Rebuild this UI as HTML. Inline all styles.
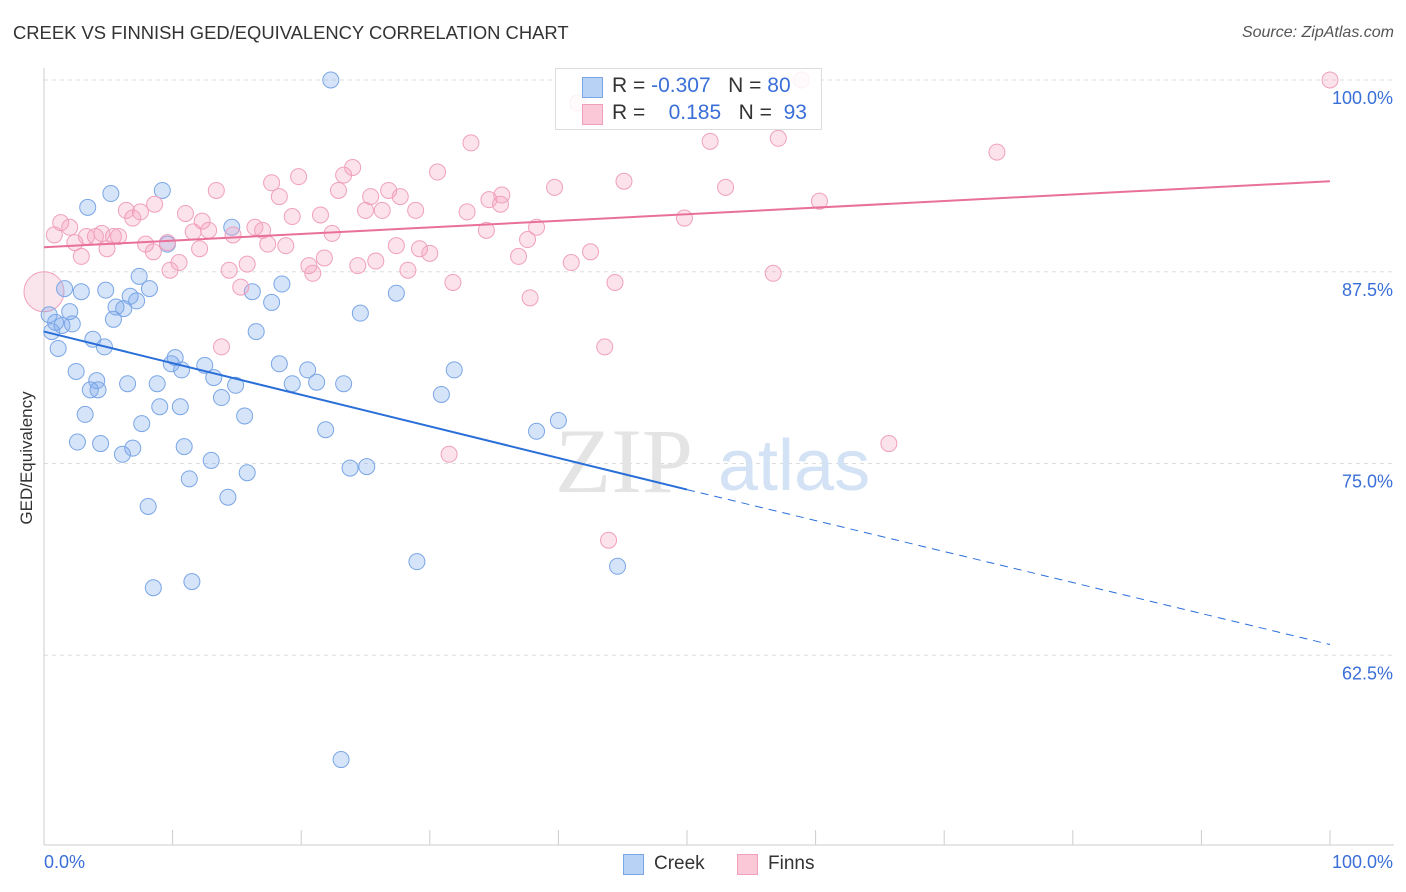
<!DOCTYPE html>
<html><head><meta charset="utf-8"><style>
body{margin:0;background:#fff;font-family:"Liberation Sans",sans-serif;}
#wrap{position:relative;width:1406px;height:892px;overflow:hidden;}
.t{position:absolute;white-space:nowrap;}
</style></head><body>
<div id="wrap">
<div class="t" style="left:13px;top:22px;font-size:18.4px;color:#333;">CREEK VS FINNISH GED/EQUIVALENCY CORRELATION CHART</div>
<div class="t" style="right:12px;top:24px;font-size:16px;color:#555;font-style:italic;">Source: ZipAtlas.com</div>
<svg id="svg" width="1406" height="892" style="position:absolute;left:0;top:0"></svg>
<div class="t" style="left:555px;top:68px;width:265px;height:60px;border:1px solid #ddd;background:rgba(255,255,255,0.85);">
 <div style="position:absolute;left:26px;top:8px;width:19px;height:19px;background:#b8d2f5;border:1px solid #7aa6e6;"></div>
 <div style="position:absolute;left:26px;top:35px;width:19px;height:19px;background:#fbc8d8;border:1px solid #f0a0bc;"></div>
 <div class="t" style="left:56px;top:5px;font-size:21px;color:#333;">R = <span style="color:#3a6fd8">-0.307</span>&nbsp;&nbsp;&nbsp;N = <span style="color:#3a6fd8">80</span></div>
 <div class="t" style="left:56px;top:32px;font-size:21px;color:#333;">R = &nbsp;&nbsp;&nbsp;<span style="color:#3a6fd8">0.185</span>&nbsp;&nbsp;&nbsp;N = &nbsp;<span style="color:#3a6fd8">93</span></div>
</div>
<div class="t" style="left:44px;top:852px;font-size:18px;color:#3a6fd8;">0.0%</div>
<div class="t" style="right:13px;top:852px;font-size:18px;color:#3a6fd8;">100.0%</div>
<div style="position:absolute;left:623px;top:854px;width:19px;height:19px;background:#b8d2f5;border:1px solid #7aa6e6;"></div>
<div class="t" style="left:654px;top:853px;font-size:19px;color:#333;">Creek</div>
<div style="position:absolute;left:737px;top:854px;width:19px;height:19px;background:#fbc8d8;border:1px solid #f0a0bc;"></div>
<div class="t" style="left:768px;top:853px;font-size:19px;color:#333;">Finns</div>
<div class="t" style="left:27px;top:458px;font-size:17px;color:#333;transform:translate(-50%,-50%) rotate(-90deg);transform-origin:center;">GED/Equivalency</div>
</div>
<script>
const yTicks=[100,87.5,75,62.5];
const yTickLabels=["100.0%","87.5%","75.0%","62.5%"];
const creekX=[22.3,5.2,9.2,3.4,14.6,9.6,7.4,8.2,2.9,4.8,1.6,16.2,18.5,27.4,6.7,7.2,5.6,6.2,17.7,0.4,24.6,2.0,5.4,0.9,2.2,1.4,0.6,16.5,3.8,4.7,1.1,10.2,9.9,10.7,12.5,18.3,20.5,31.9,2.5,13.2,4.1,6.5,8.8,14.9,19.3,21.2,23.3,3.6,4.2,13.8,30.9,9.0,10.6,3.2,15.6,7.6,21.9,38.3,40.0,2.6,4.4,6.9,10.9,6.1,13.0,25.1,23.8,15.8,11.3,14.3,8.1,29.0,44.6,11.5,8.5,23.1];
const creekY=[100,92.6,92.8,91.7,90.4,89.3,87.2,86.4,86.2,86.3,86.4,86.2,86.7,86.1,85.9,85.6,85.2,85.1,85.5,84.7,84.8,84.9,84.4,84.2,84.1,84.0,83.6,83.6,83.1,82.6,82.5,81.9,81.5,81.1,81.4,81.5,81.1,81.1,81.0,80.6,80.4,80.2,80.2,80.1,80.2,80.3,80.2,79.8,79.8,79.3,79.5,78.7,78.7,78.2,78.1,77.6,77.2,77.1,77.8,76.4,76.3,76.0,76.1,75.6,75.2,74.8,74.7,74.4,74.0,72.8,72.2,68.6,68.3,67.3,66.9,55.7];
const finnsX=[100,58.9,41.5,33.2,51.8,57.1,74.1,30.6,24.0,45.1,19.8,17.7,23.3,13.4,26.8,39.7,53.0,22.9,18.3,25.4,27.7,35.6,34.6,35.5,60.3,6.4,8.6,7.5,1.3,11.0,28.9,32.9,25.0,26.3,21.5,19.3,12.3,6.9,49.8,2.0,12.8,0.8,4.5,5.8,14.7,11.6,17.0,16.4,22.4,34.4,38.3,4.0,3.3,5.4,2.4,7.9,9.6,17.4,18.8,37.6,27.4,29.2,30.0,4.9,12.1,8.5,2.9,10.5,42.5,21.8,25.8,36.9,15.8,14.4,24.4,28.3,9.8,20.9,20.6,41.0,56.7,31.8,44.4,15.3,37.8,13.8,43.6,65.7,31.5,43.9];
const finnsY=[100,100,98.5,95.9,96.0,96.2,95.3,94.0,94.3,93.4,93.7,93.3,93.8,92.8,92.8,93.0,93.0,92.8,92.4,92.4,92.4,92.5,92.2,91.9,92.1,91.5,91.9,91.4,90.7,91.3,91.5,91.4,91.5,91.5,91.2,91.1,90.8,91.0,91.0,90.4,90.2,89.9,90.0,89.8,89.9,90.1,90.2,90.4,90.0,90.2,90.4,89.8,89.8,89.8,89.4,89.3,89.4,89.3,89.2,89.6,89.2,89.0,88.7,89.0,89.0,88.8,88.5,88.1,88.8,88.4,88.2,88.5,88.0,87.6,87.9,87.6,87.6,87.4,87.9,88.1,87.4,86.8,86.8,86.5,85.8,82.6,82.6,76.3,75.6,70.0];
const creekTrend=[83.6,73.3,63.2];
const finnsTrend=[89.1,93.4];
const NS="http://www.w3.org/2000/svg";
const svg=document.getElementById('svg');
const X=v=>44+v*12.86, Y=v=>80+(100-v)*15.34;
function mk(t,a){const e=document.createElementNS(NS,t);for(const k in a)e.setAttribute(k,a[k]);svg.appendChild(e);return e;}
yTicks.forEach((t,i)=>{
 const g=mk('line',{x1:44,x2:1394,y1:Y(t),y2:Y(t),stroke:'#ddd','stroke-dasharray':'4,4'});
 
 
 const tx=mk('text',{x:1393,y:Y(t)+24,'text-anchor':'end','font-size':18,fill:'#3a6fd8','font-family':'Liberation Sans'});
 tx.textContent=yTickLabels[i];
 
 
});
const ax=mk('line',{x1:44,x2:44,y1:68,y2:845,stroke:'#ccc'});


const bx=mk('line',{x1:44,x2:1394,y1:845,y2:845,stroke:'#ccc'});


for(let i=0;i<=10;i++){const tk=mk('line',{x1:X(i*10),x2:X(i*10),y1:830,y2:845,stroke:'#ccc'});
 
 }
const wm=mk('text',{x:555,y:492,'font-size':92,fill:'#e4e4e4','font-family':'Liberation Serif'});wm.textContent='ZIP';


const wm2=mk('text',{x:718,y:490,'font-size':72,fill:'#d3e2f4','font-family':'Liberation Sans'});wm2.textContent='atlas';


const big=mk('circle',{cx:X(0),cy:Y(86.2),r:20,fill:'rgba(240,150,180,0.25)',stroke:'#f0a0bc'});


creekX.forEach((x,i)=>{const c=mk('circle',{cx:X(x),cy:Y(creekY[i]),r:8,fill:'rgba(120,165,235,0.3)',stroke:'#7aa6e6','stroke-width':1});
 
 });
finnsX.forEach((x,i)=>{const c=mk('circle',{cx:X(x),cy:Y(finnsY[i]),r:8,fill:'rgba(245,160,190,0.3)',stroke:'#f0a0bc','stroke-width':1});
 
 });
const l1=mk('line',{x1:X(0),y1:Y(creekTrend[0]),x2:X(50),y2:Y(creekTrend[1]),stroke:'#2a6fd8','stroke-width':2});


const l2=mk('line',{x1:X(50),y1:Y(creekTrend[1]),x2:X(100),y2:Y(creekTrend[2]),stroke:'#2a6fd8','stroke-width':1,'stroke-dasharray':'8,6'});


const l3=mk('line',{x1:X(0),y1:Y(finnsTrend[0]),x2:X(100),y2:Y(finnsTrend[1]),stroke:'#e8709a','stroke-width':2});


</script>
</body></html>
